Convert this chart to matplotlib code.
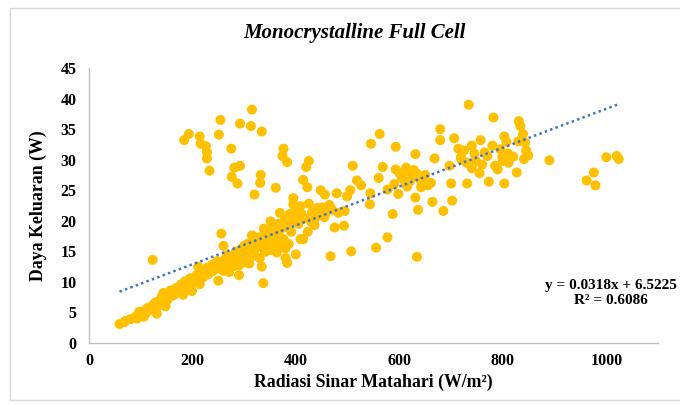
import numpy as np
import matplotlib.pyplot as plt
from matplotlib.patches import Rectangle

# --- data (W/m2, W) ---
# upper scatter / outliers
x_outer = [184, 193, 214, 216, 226, 228, 228, 233, 251, 254, 275, 281, 276, 287, 292,
           292, 313, 315, 320, 334, 332, 331, 361, 376, 374, 383, 395, 414, 420, 425,
           422, 448, 456, 479, 499, 510, 505, 518, 526, 545, 562, 544, 543, 560, 568,
           577, 577, 555, 507, 467, 475, 493, 494, 482, 456, 587, 593, 593, 598, 603,
           613, 620, 631, 634, 631, 636, 634, 642, 661, 664, 668, 679, 679, 685, 697,
           700, 702, 706, 714, 719, 731, 734, 740, 748, 755, 757, 765, 773, 782, 780,
           790, 799, 803, 803, 807, 811, 827, 831, 834, 839, 841, 845, 849, 843, 890,
           962, 976, 979, 1000, 1020, 1024]
y_outer = [33.2, 34.2, 33.8, 32.6, 32.2, 31.2, 30.2, 28.2, 34.1, 36.5, 31.8, 28.7, 27.2, 26.1, 29.0,
           35.9, 35.5, 38.2, 24.3, 34.6, 27.5, 26.2, 25.4, 31.8, 30.6, 29.6, 23.7, 26.7, 28.8, 29.8,
           25.5, 25.0, 24.3, 24.5, 24.0, 29.0, 25.0, 26.6, 25.8, 32.6, 34.2, 24.5, 22.7, 27.0, 28.8,
           25.1, 17.3, 15.6, 15.0, 14.2, 18.9, 19.2, 21.6, 21.3, 21.0, 21.1, 32.1, 28.4, 24.4, 27.5,
           28.7, 26.4, 30.9, 27.7, 23.8, 21.8, 14.1, 25.5, 26.2, 23.1, 30.2, 35.0, 33.2, 21.6, 29.0,
           26.1, 23.3, 33.5, 31.8, 30.4, 26.1, 39.0, 32.3, 29.8, 27.8, 33.2, 31.2, 26.4, 36.9, 32.3,
           28.4, 30.4, 33.8, 26.1, 32.9, 29.5, 27.9, 36.3, 35.5, 34.2, 30.1, 31.5, 30.7, 32.8, 29.9,
           26.6, 27.9, 25.8, 30.4, 30.6, 30.1]

# dense clusters in the middle / right
x_mid = [720, 725, 730, 740, 745, 760, 770, 785, 795, 800, 810, 820, 830,
         401, 409, 418, 431, 442, 452, 436, 423, 414, 436,
         605, 612, 618, 625, 640, 650, 655,
         405, 425, 445, 465, 430, 455, 470, 590, 600, 615, 628, 645]
y_mid = [30.0, 31.5, 29.5, 28.6, 31.0, 29.2, 30.6, 29.0, 31.7, 29.8, 31.0, 30.5, 33.0,
         21.6, 22.4, 20.4, 21.3, 22.1, 22.2, 19.3, 18.2, 17.0, 20.2,
         27.0, 26.2, 28.0, 27.2, 26.8, 27.5, 25.8,
         19.5, 22.8, 21.0, 22.6, 19.8, 20.6, 21.8, 26.0, 27.8, 25.6, 28.3, 26.3]

# lower main band
x_band = [59, 68, 93, 97, 106, 118, 123, 131, 135, 144, 152, 148, 165, 173, 178, 182,
          190, 199, 203, 211, 214, 224, 233, 245, 250, 256, 260, 262, 271, 275, 287,
          290, 300, 309, 315, 326, 334, 337, 338, 344, 351, 358, 363, 369, 376, 380,
          383, 386, 391, 395, 400, 409,
          70, 80, 90, 100, 105, 110, 115, 120, 125, 130, 135, 140, 145, 150, 155, 160,
          165, 170, 175, 180, 185, 190, 195, 200, 205, 210, 215, 220, 225, 230, 235, 240,
          245, 250, 255, 260, 265, 270, 275, 280, 285, 290, 295, 300, 305, 310, 315, 320,
          325, 330, 335, 340, 345, 350, 355, 360, 365, 370, 375, 380, 385, 390, 395, 400,
          405, 410,
          260, 280, 300, 320, 340, 350, 330, 290, 310, 270, 360, 370, 380,
          112, 128, 142, 158, 168, 186, 196, 208, 218, 228, 238, 248, 266, 284, 296,
          306, 318, 328, 342, 354, 366, 378, 388, 398]
y_band = [3.1, 3.4, 4.0, 5.1, 4.3, 5.4, 13.6, 4.8, 6.2, 8.2, 7.1, 6.0, 7.9, 9.1, 9.6, 7.9,
          9.9, 8.5, 10.5, 12.5, 9.6, 11.4, 11.9, 13.1, 10.2, 17.9, 15.9, 13.6, 11.6, 14.2, 14.8,
          11.1, 15.9, 13.3, 17.6, 16.7, 12.5, 9.8, 18.7, 15.9, 19.9, 17.6, 14.8, 21.3, 17.0, 13.9,
          13.1, 16.2, 18.2, 22.7, 14.5, 17.0,
          3.6, 3.9, 4.3, 4.6, 5.2, 4.9, 5.8, 5.5, 6.3, 5.9, 6.8, 7.3, 6.9, 7.6, 8.0, 7.7,
          8.5, 8.2, 9.0, 8.8, 9.5, 9.2, 10.0, 9.8, 10.6, 10.2, 11.0, 10.7, 11.5, 11.2, 12.0, 11.8,
          12.5, 12.2, 13.0, 12.6, 13.4, 13.1, 13.8, 13.5, 14.2, 14.0, 14.7, 14.4, 15.1, 14.9, 15.6, 15.3,
          16.0, 15.8, 16.6, 16.2, 17.0, 16.7, 17.5, 18.2, 17.8, 18.6, 19.3, 19.0, 19.8, 20.4, 20.1, 21.0,
          20.5, 21.2,
          11.8, 12.6, 13.2, 14.3, 14.9, 15.2, 13.9, 12.7, 13.0, 12.0, 16.3, 16.1, 15.5,
          5.6, 6.6, 7.8, 8.6, 9.0, 10.1, 10.6, 11.1, 11.6, 12.3, 12.8, 13.4, 14.3, 15.0, 15.5,
          16.2, 16.8, 17.3, 18.0, 18.8, 19.5, 20.1, 21.1, 21.6]

radiasi = np.array(x_outer + x_mid + x_band, dtype=float)
daya = np.array(y_outer + y_mid + y_band, dtype=float)

# trendline as given in the chart
slope = 0.0318
intercept = 6.5225
r2 = 0.6086

plt.rcParams['font.family'] = ['Liberation Serif', 'DejaVu Serif']
plt.rcParams['font.weight'] = 'bold'

fig = plt.figure(figsize=(6.8, 4.05), dpi=100)
fig.patches.append(Rectangle((10 / 680, 1 - 400 / 405), 0.99, (400 - 8) / 405,
                             transform=fig.transFigure, fill=False,
                             edgecolor='#D9D9D9', linewidth=1))

ax = fig.add_axes([89 / 680, 1 - 343 / 405, (658 - 89) / 680, (343 - 68) / 405])

ax.scatter(radiasi, daya, s=52, color='#FFC000', edgecolors='none', zorder=2)

xt = np.array([radiasi.min(), radiasi.max()])
ax.plot(xt, slope * xt + intercept, color='#4472C4', linestyle=(0, (1, 1.3)),
        linewidth=1.8, zorder=3)

ax.set_xlim(0, 1100)
ax.set_ylim(0, 45)
ax.set_xticks([0, 200, 400, 600, 800, 1000])
ax.set_yticks(np.arange(0, 46, 5))
ax.tick_params(axis='both', length=0, labelsize=11.5)
ax.tick_params(axis='y', pad=9)
ax.tick_params(axis='x', pad=7)

for s in ['top', 'right']:
    ax.spines[s].set_visible(False)
for s in ['left', 'bottom']:
    ax.spines[s].set_color('#BFBFBF')
    ax.spines[s].set_linewidth(1)

ax.set_xlabel('Radiasi Sinar Matahari (W/m²)', fontsize=12.8, fontweight='bold')
ax.set_ylabel('Daya Keluaran (W)', fontsize=12.8, fontweight='bold')
ax.xaxis.set_label_coords(0.5, -0.11)
ax.yaxis.set_label_coords(-0.074, 0.5)

fig.text(354 / 680, 1 - 33 / 405, 'Monocrystalline Full Cell', ha='center', va='center',
         fontsize=15, fontweight='bold', fontstyle='italic')

fig.text(611 / 680, 1 - 293 / 405, f'y = {slope}x + {intercept}\nR² = {r2}',
         ha='center', va='center', multialignment='center', fontsize=11,
         fontweight='bold', linespacing=1.25)

fig.savefig('out.png', dpi=100)
